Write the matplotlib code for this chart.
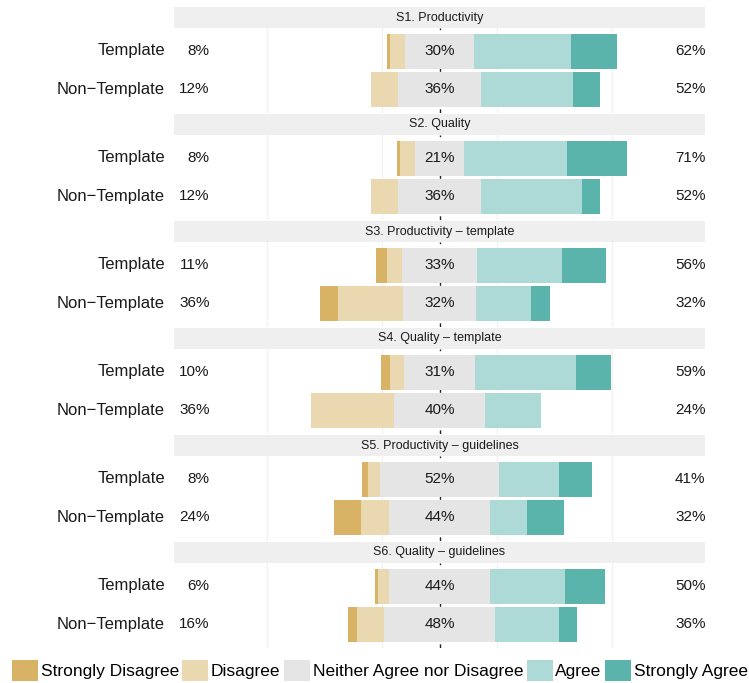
import matplotlib.pyplot as plt
from matplotlib.patches import Patch
from matplotlib.transforms import ScaledTranslation

plt.rcParams['font.family'] = ['Liberation Sans', 'DejaVu Sans']

levels = ['Strongly Disagree', 'Disagree', 'Neither Agree nor Disagree', 'Agree', 'Strongly Agree']
colors = ['#D8B365', '#EAD9B0', '#E5E5E5', '#ADD9D6', '#5AB4AC']
groups = ['Template', 'Non\u2212Template']
titles = ['S1. Productivity', 'S2. Quality', 'S3. Productivity \u2013 template',
          'S4. Quality \u2013 template', 'S5. Productivity \u2013 guidelines',
          'S6. Quality \u2013 guidelines']

# percent per response level, rows = [Template, Non-Template]
s1 = [[1.3, 6.7, 30.0, 42.0, 20.0], [0.0, 12.0, 36.0, 40.0, 12.0]]
s2 = [[1.3, 6.7, 21.0, 45.0, 26.0], [0.0, 12.0, 36.0, 44.0, 8.0]]
s3 = [[4.8, 6.2, 33.0, 36.7, 19.3], [8.0, 28.0, 32.0, 24.0, 8.0]]
s4 = [[4.0, 6.0, 31.0, 44.0, 15.0], [0.0, 36.0, 40.0, 24.0, 0.0]]
s5 = [[2.6, 5.3, 51.6, 26.0, 14.6], [12.0, 12.0, 44.0, 16.0, 16.0]]
s6 = [[1.4, 4.8, 43.6, 33.0, 17.2], [4.0, 12.0, 48.0, 28.0, 8.0]]
questions = [s1, s2, s3, s4, s5, s6]

W, H = 749, 683
fig = plt.figure(figsize=(W / 100, H / 100), dpi=100)
up = ScaledTranslation(0, 2 / 100, fig.dpi_scale_trans)  # nudge labels up a bit

left, right = 174, 705
for i, (title, rows) in enumerate(zip(titles, questions)):
    top = 7 + 107 * i
    # strip
    sax = fig.add_axes([left / W, 1 - (top + 21) / H, (right - left) / W, 21 / H])
    sax.set_facecolor('#EFEFEF')
    sax.set_xticks([])
    sax.set_yticks([])
    for sp in sax.spines.values():
        sp.set_visible(False)
    sax.text(0.5, 0.5, title, ha='center', va='center', fontsize=9, color='#1a1a1a')

    # panel
    ax = fig.add_axes([left / W, 1 - (top + 21 + 85) / H, (right - left) / W, 85 / H])
    for g in [-75, -25, 25, 75]:
        ax.axvline(g, color='#F2F2F2', lw=1, zorder=0)
    ax.axvline(0, color='#222222', lw=1, ls=(0, (3, 3)), zorder=1)
    tr = ax.transData + up
    for j, (grp, vals) in enumerate(zip(groups, rows)):
        y = 2 - j
        start = -(vals[0] + vals[1] + vals[2] / 2)
        for v, c in zip(vals, colors):
            if v > 0:
                ax.barh(y, v, left=start, height=0.9, color=c, zorder=2)
            start += v
        low = vals[0] + vals[1]
        high = vals[3] + vals[4]
        ax.text(-119.5, y, grp, ha='right', va='center_baseline', fontsize=12,
                color='#1a1a1a', transform=tr, clip_on=False)
        ax.text(-100, y, f'{round(low)}%', ha='right', va='center_baseline',
                fontsize=11, color='#1a1a1a', transform=tr)
        ax.text(0, y, f'{round(vals[2])}%', ha='center', va='center_baseline',
                fontsize=11, color='#1a1a1a', zorder=3, transform=tr)
        ax.text(102.5, y, f'{round(high)}%', ha='left', va='center_baseline',
                fontsize=11, color='#1a1a1a', transform=tr)
    ax.set_xlim(-115.5, 115.5)
    ax.set_ylim(0.4, 2.6)
    ax.set_xticks([])
    ax.set_yticks([])
    for sp in ax.spines.values():
        sp.set_visible(False)

handles = [Patch(facecolor=c, edgecolor='none', label=l) for c, l in zip(colors, levels)]
fig.legend(handles=handles, loc='lower center', bbox_to_anchor=(0.507, -0.012), ncol=5,
           frameon=False, fontsize=12.5, handlelength=1.5, handleheight=1.5,
           handletextpad=0.15, columnspacing=0.2, borderaxespad=0.2)

fig.savefig('out.png', dpi=100)
